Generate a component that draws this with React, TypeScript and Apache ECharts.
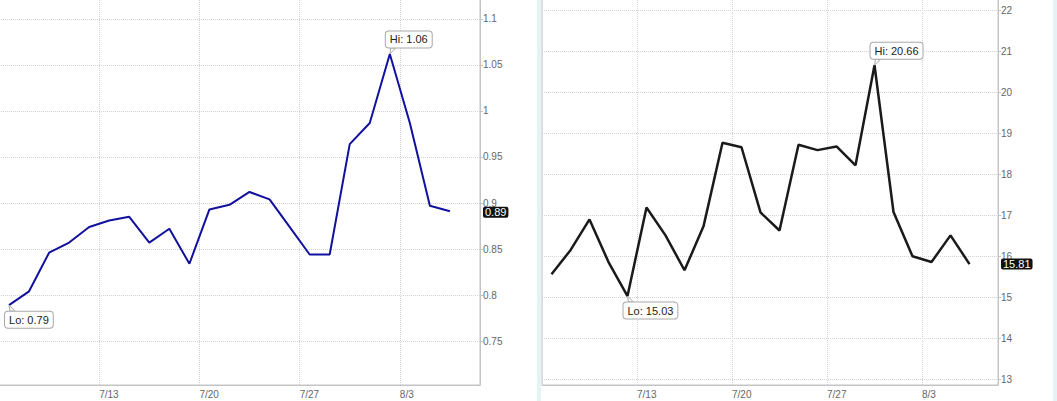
import { useEffect, useRef } from "react";
import * as echarts from "echarts";

// trading days shown on both panels
const days = [
  "7/6", "7/7", "7/8", "7/9", "7/10",
  "7/13", "7/14", "7/15", "7/16", "7/17",
  "7/20", "7/21", "7/22", "7/23", "7/24",
  "7/27", "7/28", "7/29", "7/30", "7/31",
  "8/3", "8/4", "8/5",
];

const leftValues = [
  0.789, 0.804, 0.846, 0.857, 0.874,
  0.881, 0.885, 0.857, 0.872, 0.834,
  0.893, 0.898, 0.912, 0.904, 0.874,
  0.844, 0.844, 0.964, 0.987, 1.062,
  0.987, 0.897, 0.891,
];

const rightValues = [
  15.56, 16.15, 16.9, 15.86, 15.03,
  17.19, 16.51, 15.66, 16.73, 18.77,
  18.66, 17.07, 16.63, 18.72, 18.59,
  18.68, 18.22, 20.66, 17.08, 16.0,
  15.86, 16.51, 15.81,
];

// y ranges: [min, max, step]
const leftRange = [0.7022, 1.1228, 0.05];
const rightRange = [12.861, 22.3, 1];

const FONT = '"Liberation Sans", Arial, sans-serif';
const AXIS_COLOR = "#c4c4c4";
const GRID_COLOR = "#d4d4d4";
const LABEL_COLOR = "#666";

function xAxisFor(gridIndex: number) {
  return {
    type: "value",
    gridIndex,
    min: -0.5,
    max: days.length + 0.5,
    interval: 5,
    axisLine: { show: true, onZero: false, lineStyle: { color: AXIS_COLOR } },
    axisTick: { show: false },
    splitLine: { show: true, lineStyle: { color: GRID_COLOR, type: "dotted" } },
    axisLabel: {
      align: "left",
      margin: 4,
      color: LABEL_COLOR,
      fontSize: 10,
      fontFamily: FONT,
      formatter: (v: number) => {
        const i = Math.round(v + 0.5);
        return i > 0 && i < days.length ? days[i] : "";
      },
    },
  };
}

function yAxisFor(gridIndex: number, range: number[]) {
  return {
    type: "value",
    gridIndex,
    position: "right",
    min: range[0],
    max: range[1],
    minInterval: range[2],
    maxInterval: range[2],
    axisLine: { show: true, onZero: false, lineStyle: { color: AXIS_COLOR } },
    axisTick: { show: true, length: 3, lineStyle: { color: AXIS_COLOR } },
    axisLabel: {
      margin: 3,
      color: LABEL_COLOR,
      fontSize: 10,
      fontFamily: FONT,
      showMinLabel: false,
      showMaxLabel: false,
    },
    splitLine: { show: true, lineStyle: { color: GRID_COLOR, type: "dotted" } },
  };
}

const calloutLabel = {
  show: true,
  color: "#222",
  fontSize: 11,
  lineHeight: 12,
  fontFamily: FONT,
  backgroundColor: "#fff",
  borderColor: "#a8a8a8",
  borderWidth: 1,
  borderRadius: 3,
  padding: [2, 4, 2, 4],
  align: "left",
};

const tailStyle = { color: "#fff", borderColor: "#a8a8a8", borderWidth: 1 };

function seriesFor(idx: number, values: number[], color: string, width: number) {
  const last = values[values.length - 1];
  return {
    type: "line",
    xAxisIndex: idx,
    yAxisIndex: idx,
    data: values.map((v, i) => [i, v]),
    showSymbol: false,
    symbol: "none",
    silent: true,
    lineStyle: { color, width },
    itemStyle: { color },
    markPoint: {
      silent: true,
      data: [
        {
          type: "max",
          valueDim: "y",
          symbol: "path://M0,6L1,0L6,0Z",
          symbolSize: [6, 6],
          symbolOffset: [3, -3],
          itemStyle: tailStyle,
          label: {
            ...calloutLabel,
            position: [-3.5, 0],
            verticalAlign: "bottom",
            formatter: (p: any) => "Hi: " + Number(p.value).toFixed(2),
          },
        },
        {
          type: "min",
          valueDim: "y",
          symbol: "path://M0,0L1,6L6,6Z",
          symbolSize: [6, 6],
          symbolOffset: [3, 3],
          itemStyle: tailStyle,
          label: {
            ...calloutLabel,
            position: [-3.5, "100%"],
            verticalAlign: "top",
            formatter: (p: any) => "Lo: " + Number(p.value).toFixed(2),
          },
        },
      ],
    },
    markLine: {
      silent: true,
      symbol: ["none", "none"],
      lineStyle: { width: 0, color: "rgba(0,0,0,0)" },
      label: {
        show: true,
        position: "end",
        distance: 3,
        color: "#fff",
        backgroundColor: "#111",
        borderRadius: 2,
        padding: [0, 2],
        fontSize: 11,
        lineHeight: 11,
        fontFamily: FONT,
        formatter: (p: any) => Number(p.value).toFixed(2),
      },
      data: [{ yAxis: last }],
    },
  };
}

export default function App() {
  const chartRef = useRef<HTMLDivElement>(null);

  useEffect(() => {
    if (!chartRef.current) return;
    const chart = echarts.init(chartRef.current, null, { renderer: "svg" });

    const option: any = {
      animation: false,
      backgroundColor: "#fff",
      textStyle: { fontFamily: FONT },
      grid: [
        {
          left: -1,
          top: -2,
          width: 481,
          height: 387,
          show: true,
          borderColor: AXIS_COLOR,
          borderWidth: 1,
          outerBoundsMode: "none",
        },
        {
          left: 542,
          top: -2,
          width: 456,
          height: 387,
          show: true,
          borderColor: AXIS_COLOR,
          borderWidth: 1,
          outerBoundsMode: "none",
        },
      ],
      xAxis: [xAxisFor(0), xAxisFor(1)],
      yAxis: [yAxisFor(0, leftRange), yAxisFor(1, rightRange)],
      graphic: [
        { type: "rect", silent: true, shape: { x: 537, y: 0, width: 4, height: 401 }, style: { fill: "#e6f3f6" } },
        { type: "rect", silent: true, shape: { x: 1053, y: 0, width: 4, height: 401 }, style: { fill: "#e6f3f6" } },
      ],
      series: [
        seriesFor(0, leftValues, "#11119e", 2),
        seriesFor(1, rightValues, "#1a1a1a", 2.5),
      ],
    };

    chart.setOption(option);

    return () => {
      chart.dispose();
    };
  }, []);

  return (
    <div
      ref={chartRef}
      style={{ position: "fixed", left: 0, top: 0, width: 1057, height: 401, background: "#fff" }}
    />
  );
}
